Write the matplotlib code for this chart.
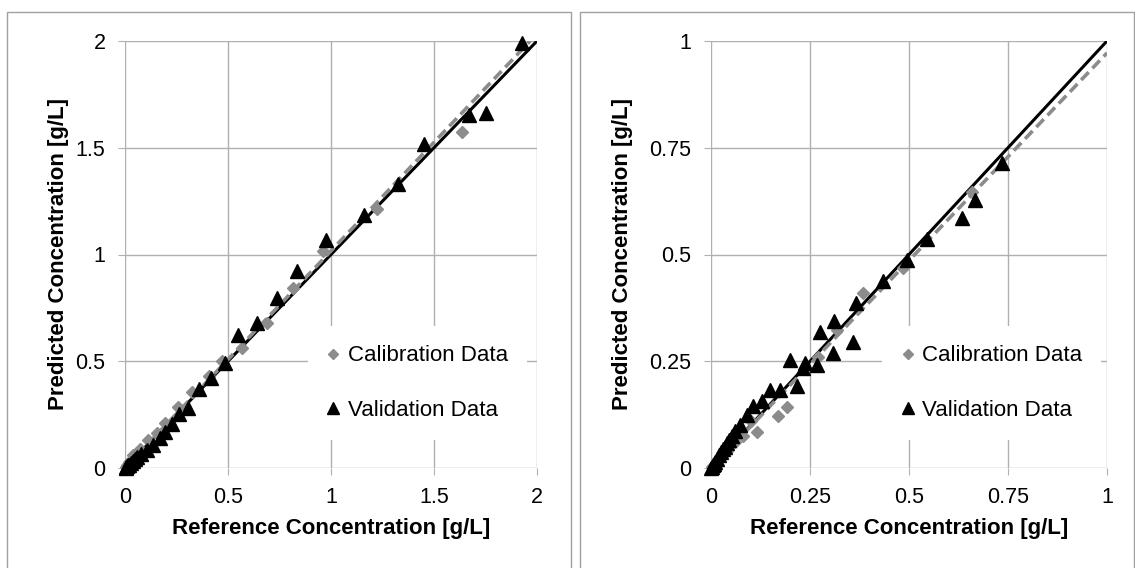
import matplotlib.pyplot as plt
from matplotlib.patches import Rectangle

plt.rcParams['font.family'] = ['Liberation Sans', 'DejaVu Sans']

# Left panel: 0-2 g/L range
cal_x_left = [0.005, 0.01, 0.02, 0.041, 0.073, 0.113, 0.153, 0.195, 0.259, 0.324,
              0.41, 0.47, 0.566, 0.688, 0.814, 0.963, 1.222, 1.634]
cal_y_left = [0.005, 0.015, 0.03, 0.06, 0.09, 0.13, 0.162, 0.209, 0.287, 0.357,
              0.43, 0.5, 0.56, 0.678, 0.842, 1.018, 1.213, 1.572]
val_x_left = [0.003, 0.006, 0.01, 0.015, 0.02, 0.03, 0.04, 0.05, 0.06, 0.08, 0.105,
              0.137, 0.17, 0.195, 0.227, 0.264, 0.307, 0.361, 0.416, 0.485, 0.55,
              0.639, 0.736, 0.833, 0.976, 1.16, 1.327, 1.451, 1.67, 1.752, 1.926]
val_y_left = [0.002, 0.004, 0.008, 0.012, 0.015, 0.025, 0.035, 0.042, 0.05, 0.065, 0.085,
              0.108, 0.139, 0.17, 0.205, 0.253, 0.283, 0.37, 0.423, 0.49, 0.623,
              0.681, 0.795, 0.924, 1.068, 1.185, 1.33, 1.518, 1.653, 1.661, 1.989]
fit_slope_left = 1.017

# Right panel: 0-1 g/L range
cal_x_right = [0.002, 0.005, 0.01, 0.02, 0.03, 0.04, 0.06, 0.08, 0.1, 0.115, 0.17,
               0.191, 0.27, 0.317, 0.385, 0.484, 0.658]
cal_y_right = [0.002, 0.005, 0.01, 0.02, 0.03, 0.04, 0.06, 0.075, 0.11, 0.085, 0.122,
               0.144, 0.26, 0.323, 0.409, 0.468, 0.647]
val_x_right = [0.001, 0.002, 0.004, 0.007, 0.01, 0.015, 0.02, 0.025, 0.03, 0.035, 0.04,
               0.045, 0.052, 0.06, 0.074, 0.09, 0.107, 0.128, 0.149, 0.174, 0.2, 0.218,
               0.233, 0.237, 0.267, 0.274, 0.307, 0.311, 0.358, 0.365, 0.434, 0.496,
               0.546, 0.633, 0.667, 0.736]
val_y_right = [0.001, 0.003, 0.006, 0.01, 0.015, 0.022, 0.03, 0.038, 0.045, 0.05, 0.058,
               0.065, 0.075, 0.087, 0.1, 0.124, 0.145, 0.158, 0.183, 0.183, 0.253, 0.192,
               0.234, 0.245, 0.241, 0.318, 0.27, 0.345, 0.296, 0.387, 0.439, 0.487,
               0.536, 0.585, 0.628, 0.714]
fit_slope_right = 0.972

fig = plt.figure(figsize=(11.35, 5.68), dpi=100)

# panel borders
fig.patches.append(Rectangle((7 / 1135, -0.05), 564 / 1135, 1.0 - 12 / 568 + 0.05,
                             transform=fig.transFigure, fill=False,
                             edgecolor='#a0a0a0', lw=1.0))
fig.patches.append(Rectangle((580 / 1135, -0.05), 554 / 1135, 1.0 - 12 / 568 + 0.05,
                             transform=fig.transFigure, fill=False,
                             edgecolor='#a0a0a0', lw=1.0))

ax1 = fig.add_axes([125 / 1135, 100 / 568, 412 / 1135, 427 / 568])
ax2 = fig.add_axes([711 / 1135, 100 / 568, 396 / 1135, 427 / 568])

panels = [
    (ax1, cal_x_left, cal_y_left, val_x_left, val_y_left, fit_slope_left, 2.0,
     [0, 0.5, 1, 1.5, 2], ['0', '0.5', '1', '1.5', '2'], -0.135),
    (ax2, cal_x_right, cal_y_right, val_x_right, val_y_right, fit_slope_right, 1.0,
     [0, 0.25, 0.5, 0.75, 1], ['0', '0.25', '0.5', '0.75', '1'], -0.198),
]

for ax, cx, cy, vx, vy, slope, lim, ticks, labels, ylab_x in panels:
    ax.plot([0, lim], [0, lim], color='black', lw=2.2, zorder=3)
    xe = min(lim, lim / slope)
    ax.plot([0, xe], [0, slope * xe], color='#8c8c8c', lw=2.6, ls=(0, (3, 1.5)),
            zorder=4)
    ax.plot(cx, cy, ls='none', marker='D', ms=6, color='#8c8c8c',
            label='Calibration Data', zorder=5, clip_on=False)
    ax.plot(vx, vy, ls='none', marker='^', ms=9.5, color='black',
            label='Validation Data', zorder=6, clip_on=False)

    ax.set_xlim(0, lim)
    ax.set_ylim(0, lim)
    ax.set_xticks(ticks)
    ax.set_yticks(ticks)
    ax.set_xticklabels(labels)
    ax.set_yticklabels(labels)
    ax.grid(True, color='#b0b0b0', lw=1.0)
    ax.set_axisbelow(True)
    for s in ax.spines.values():
        s.set_visible(False)
    ax.tick_params(length=5, color='#b0b0b0', labelsize=15.5, pad=9)
    ax.set_xlabel('Reference Concentration [g/L]', fontsize=16, fontweight='bold')
    ax.set_ylabel('Predicted Concentration [g/L]', fontsize=16, fontweight='bold')
    ax.xaxis.set_label_coords(0.5, -0.118)
    ax.yaxis.set_label_coords(ylab_x, 0.5)
    leg = ax.legend(loc='center', bbox_to_anchor=(0.709, 0.199), fontsize=16,
                    frameon=True, framealpha=1, edgecolor='none', facecolor='white',
                    fancybox=False, labelspacing=1.5, handlelength=0.6,
                    handletextpad=0.35, borderpad=0.85, markerscale=0.85)
    leg.set_zorder(2)

fig.savefig('out.png', dpi=100)
